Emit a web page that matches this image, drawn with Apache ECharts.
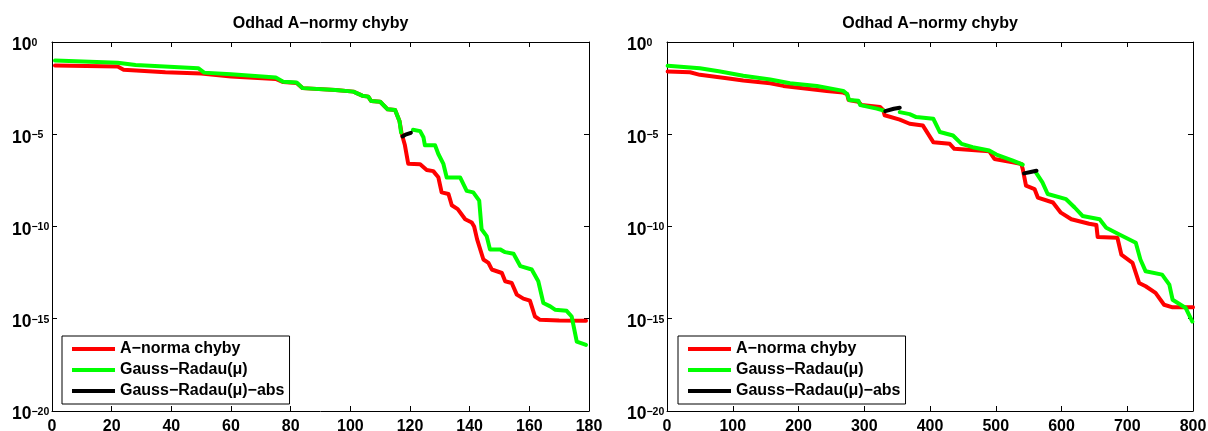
<!DOCTYPE html>
<html>
<head>
<meta charset="utf-8">
<script src="https://cdn.jsdelivr.net/npm/echarts@6/dist/echarts.min.js"></script>
<style>
html,body{margin:0;padding:0;background:#fff;}
#c{width:1208px;height:431px;}
</style>
</head>
<body>
<div id="c"></div>
<script>
// Values are [iteration, log10(value)]; null marks a break in the line.
const leftTitle = 'Odhad A−normy chyby';
const rightTitle = 'Odhad A−normy chyby';
const seriesNames = ['A−norma chyby', 'Gauss−Radau(μ)', 'Gauss−Radau(μ)−abs'];
const leftXTicks = {min: 0, max: 180, interval: 20};
const rightXTicks = {min: 0, max: 800, interval: 100};
const yTickExp = {min: -20, max: 0, interval: 5};

const leftRed = [[1,-1.27],[22,-1.33],[24,-1.5],[38,-1.64],[50,-1.71],[60,-1.87],[75,-2.0],[77.5,-2.17],[82,-2.22],[84,-2.5],[95,-2.6],[101,-2.69],[104,-2.91],[106,-2.96],[107,-3.2],[110,-3.24],[112.5,-3.65],[115,-3.69],[116.5,-4.3],[117.2,-4.96],[118.3,-5.6],[119.4,-6.6],[123.4,-6.63],[125.6,-6.94],[127.8,-7.0],[129.5,-7.33],[130.6,-8.15],[132.9,-8.24],[134,-8.85],[136,-9.06],[138.5,-9.61],[140.7,-9.78],[141.5,-10.0],[142.5,-10.7],[144.6,-11.79],[146.3,-11.97],[147.4,-12.33],[150.8,-12.52],[151.9,-12.97],[154.1,-13.06],[155.8,-13.69],[158,-13.91],[160.2,-14.02],[161.9,-14.88],[163.6,-15.06],[170,-15.1],[179,-15.11]];
const leftGreen = [[1,-1.0],[22,-1.12],[28,-1.25],[49,-1.42],[51,-1.66],[60,-1.75],[75,-1.93],[77.5,-2.15],[82,-2.2],[84,-2.5],[95,-2.6],[101,-2.69],[104,-2.91],[106,-2.96],[107,-3.2],[110,-3.24],[112.5,-3.65],[115,-3.69],[116.5,-4.3],[117,-4.9],[118,null],[121,-4.76],[123.4,-4.83],[124.5,-5.16],[125,-5.6],[128.4,-5.6],[129.5,-6.07],[131.2,-6.61],[132.3,-7.34],[136.8,-7.34],[139,-8.07],[141.2,-8.15],[143.2,-8.6],[144,-10.15],[145.7,-10.52],[146.8,-11.24],[150.2,-11.24],[151.9,-11.39],[154.7,-11.48],[157,-12.15],[160.8,-12.33],[163,-12.97],[164.7,-14.15],[167,-14.33],[168.6,-14.51],[172.5,-14.57],[174.2,-14.88],[175.9,-16.24],[179,-16.42]];
const leftBlack = [[117.5,-5.12],[118.5,-5.02],[120.3,-4.92]];

const rightRed = [[1,-1.6],[35,-1.64],[50,-1.78],[91,-1.96],[116,-2.09],[157,-2.24],[177,-2.38],[197,-2.47],[243,-2.65],[268,-2.74],[274,-2.82],[276,-3.14],[291,-3.24],[296,-3.42],[324,-3.52],[329,-3.7],[331,-3.97],[354,-4.21],[369,-4.43],[389,-4.52],[405,-5.43],[430,-5.52],[437,-5.79],[490,-5.92],[498,-6.34],[526,-6.52],[539,-6.61],[541,-6.88],[546,-7.79],[559,-7.97],[564,-8.43],[587,-8.7],[599,-9.25],[615,-9.61],[642,-9.85],[653,-9.92],[655,-10.57],[685,-10.61],[691,-11.52],[708,-11.97],[718,-13.06],[728,-13.24],[743,-13.6],[756,-14.24],[769,-14.38],[800,-14.38]];
const rightGreen = [[1,-1.29],[50,-1.42],[81,-1.6],[116,-1.83],[157,-2.03],[187,-2.24],[228,-2.38],[268,-2.65],[274,-2.82],[277,-3.14],[291,-3.18],[294,-3.42],[319,-3.61],[331,-3.73],[340,null],[354,-3.8],[369,-3.91],[379,-4.07],[405,-4.16],[415,-4.88],[435,-5.07],[448,-5.52],[465,-5.7],[490,-5.88],[501,-6.1],[526,-6.43],[541,-6.65],[550,null],[561,-7.07],[571,-7.61],[579,-8.24],[607,-8.52],[620,-8.97],[632,-9.43],[658,-9.61],[668,-10.07],[688,-10.43],[713,-10.88],[720,-11.79],[728,-12.43],[753,-12.61],[764,-13.15],[769,-13.97],[789,-14.42],[799,-15.15]];
const rightBlack = [[332,-3.75],[345,-3.62],[354,-3.56],[450,null],[543,-7.12],[553,-7.05],[562,-6.98]];

const colors = ['#ff0000', '#00ff00', '#000000'];

function toData(arr) {
  return arr.map(p => [p[0], p[1] === null ? '-' : Math.pow(10, p[1])]);
}

const font = 'Liberation Sans, Arial, Helvetica, sans-serif';
const chart = echarts.init(document.getElementById('c'), null, {renderer: 'canvas'});

function yLabel(v) {
  const e = Math.round(Math.log10(v));
  const s = e < 0 ? '−' + (-e) : String(e);
  return '{b|10}{s|' + s + '}';
}
const yRich = {
  b: {fontSize: 17.5, fontWeight: 'bold', fontFamily: font, color: '#000', lineHeight: 17, verticalAlign: 'bottom'},
  s: {fontSize: 10.5, fontWeight: 'bold', fontFamily: font, color: '#000', lineHeight: 10, padding: [0, 0, 14, 0], verticalAlign: 'top'}
};

function xAxisPair(gi, t) {
  const base = {
    type: 'value', gridIndex: gi, min: t.min, max: t.max, interval: t.interval,
    splitLine: {show: false},
    axisLine: {show: true, onZero: false, lineStyle: {color: '#000', width: 1}},
    axisTick: {show: true, inside: true, length: 5, lineStyle: {color: '#000'}}
  };
  return [
    Object.assign({}, base, {position: 'bottom',
      axisLabel: {show: true, margin: 8, fontSize: 16, fontWeight: 'bold', fontFamily: font, color: '#000',
        showMinLabel: true, showMaxLabel: true}}),
    Object.assign({}, base, {position: 'top', axisLabel: {show: false}})
  ];
}
function yAxisPair(gi) {
  const base = {
    type: 'log', logBase: 10, gridIndex: gi,
    min: Math.pow(10, yTickExp.min), max: Math.pow(10, yTickExp.max), interval: yTickExp.interval,
    splitLine: {show: false}, minorTick: {show: false},
    axisLine: {show: true, onZero: false, lineStyle: {color: '#000', width: 1}},
    axisTick: {show: true, inside: true, length: 5, lineStyle: {color: '#000'}}
  };
  return [
    Object.assign({}, base, {position: 'left',
      axisLabel: {show: true, margin: 40, align: 'left', padding: [8, 0, 0, 0], formatter: yLabel, rich: yRich, showMinLabel: true, showMaxLabel: true}}),
    Object.assign({}, base, {position: 'right', axisLabel: {show: false}})
  ];
}

const grids = [
  {left: 52, top: 42, width: 537, height: 369, outerBoundsMode: 'none', containLabel: false},
  {left: 667, top: 42, width: 526, height: 369, outerBoundsMode: 'none', containLabel: false}
];

const xAxes = [...xAxisPair(0, leftXTicks), ...xAxisPair(1, rightXTicks)];
const yAxes = [...yAxisPair(0), ...yAxisPair(1)];

function lineSeries(name, data, color, xi, yi) {
  return {
    name: name, type: 'line', xAxisIndex: xi, yAxisIndex: yi,
    data: toData(data), showSymbol: false, symbol: 'none',
    connectNulls: false, clip: true,
    lineStyle: {color: color, width: 4, join: 'round', cap: 'round'},
    itemStyle: {color: color}
  };
}

const series = [
  lineSeries(seriesNames[0], leftRed, colors[0], 0, 0),
  lineSeries(seriesNames[1], leftGreen, colors[1], 0, 0),
  lineSeries(seriesNames[2], leftBlack, colors[2], 0, 0),
  lineSeries(seriesNames[0], rightRed, colors[0], 2, 2),
  lineSeries(seriesNames[1], rightGreen, colors[1], 2, 2),
  lineSeries(seriesNames[2], rightBlack, colors[2], 2, 2)
];

function legend(left) {
  return {
    orient: 'vertical', left: left, top: 336,
    data: seriesNames, selectedMode: false,
    icon: 'rect', itemWidth: 43, itemHeight: 4, itemGap: 5,
    padding: [5, 5, 5, 10],
    borderColor: '#000', borderWidth: 1, backgroundColor: '#fff',
    textStyle: {fontSize: 16, fontWeight: 'bold', fontFamily: font, color: '#000'}
  };
}

chart.setOption({
  animation: false,
  backgroundColor: '#fff',
  color: colors,
  title: [
    {text: leftTitle, left: 320.5, top: 16, textAlign: 'center', padding: 0,
      textStyle: {fontSize: 16, fontWeight: 'bold', fontFamily: font, color: '#000'}},
    {text: rightTitle, left: 930, top: 16, textAlign: 'center', padding: 0,
      textStyle: {fontSize: 16, fontWeight: 'bold', fontFamily: font, color: '#000'}}
  ],
  legend: [legend(62), legend(678)],
  grid: grids,
  xAxis: xAxes,
  yAxis: yAxes,
  series: series
});
</script>
</body>
</html>
